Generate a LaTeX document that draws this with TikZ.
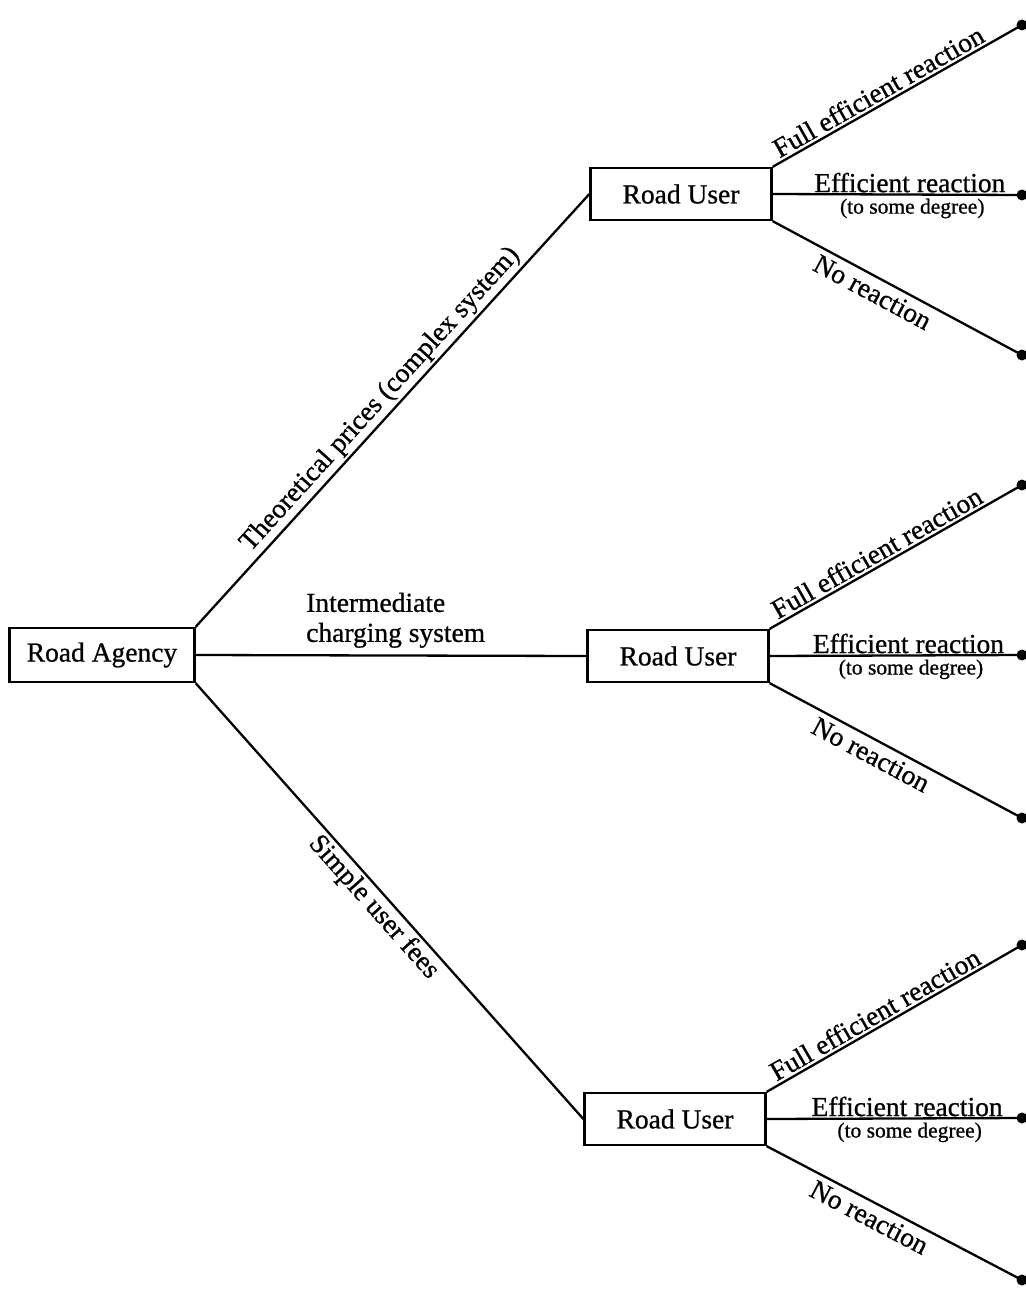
\documentclass[tikz,border=0pt]{standalone}
\usepackage{fontspec}
\setmainfont{Liberation Serif}[FakeBold=0.8]
\begin{document}
\begin{tikzpicture}[x=1pt,y=-1pt,
  box/.style={draw,line width=2.3pt,minimum width=181pt,minimum height=52pt,inner sep=0pt,font=\fontsize{27.5}{30}\selectfont},
  edge/.style={line width=2.3pt},
  lbl/.style={font=\fontsize{27.5}{30}\selectfont,inner sep=2.5pt},
  small/.style={font=\fontsize{21.5}{24}\selectfont,inner sep=3pt},
  leaf/.style={circle,fill,inner sep=0pt,minimum size=11pt}]
\useasboundingbox (0,0) rectangle (1025,1289);
\node[box,minimum width=185pt,minimum height=54pt] (ra) at (102,655) {Road Agency};
\node[box] (u1) at (681,194) {Road User};
\node[box] (u2) at (678,656) {Road User};
\node[box] (u3) at (675,1119) {Road User};

\draw[edge] (ra.north east) -- (u1.west)
  node[lbl,sloped,above,pos=0.5] (t1) {Theoretical prices (complex system)};
\draw[edge] (ra.east) -- (u2.west);
\node[lbl,align=left,anchor=south west,inner sep=0pt] (t2) at (306,648) {Intermediate\\charging system};
\draw[edge] (ra.south east) -- (u3.west)
  node[lbl,sloped,below,pos=0.49] (t3) {Simple user fees};

\foreach \u/\ya/\yb/\yc in {u1/25/195/355, u2/485/655/818, u3/945/1118/1280}{
  \node[leaf] (\u a) at (1022,\ya) {};
  \node[leaf] (\u b) at (1022,\yb) {};
  \node[leaf] (\u c) at (1022,\yc) {};
  \draw[edge] (\u.north east) -- (\u a.center)
    node[lbl,sloped,above,pos=0.45] {Full efficient reaction};
  \draw[edge] (\u.east) -- (\u b.center)
    node[lbl,above,pos=0.55,inner sep=1pt] {Efficient reaction}
    node[small,below,pos=0.56] {(to some degree)};
  \draw[edge] (\u.south east) -- (\u c.center)
    node[lbl,sloped,below,pos=0.43,inner sep=5pt] {No reaction};
}
\end{tikzpicture}
\end{document}
